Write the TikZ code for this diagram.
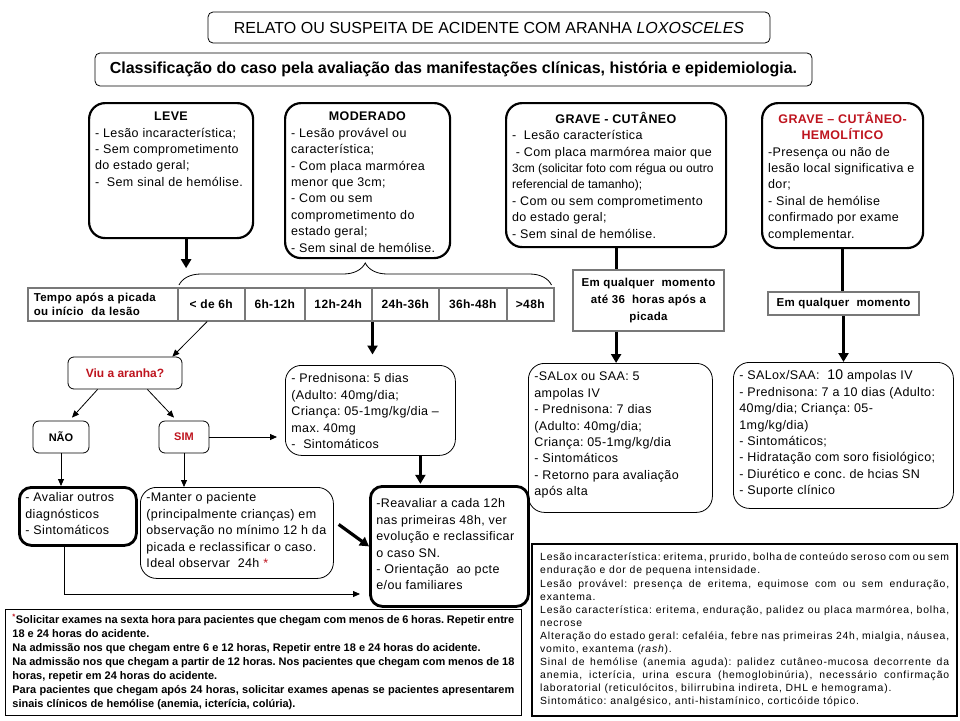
\documentclass[tikz,border=0pt]{standalone}
\usepackage{fontspec}
\setmainfont{Liberation Sans}
\newfontfamily\fontecaixa[LetterSpace=3]{Liberation Sans}
\newfontfamily\fontelarga[LetterSpace=8]{Liberation Sans}
\usepackage{xcolor}
\usepackage{tikz}
\usetikzlibrary{arrows.meta,decorations.pathreplacing,positioning}

\definecolor{alerta}{RGB}{190,20,30}
\definecolor{grade}{RGB}{120,120,120}

\frenchspacing
\hyphenpenalty=10000
\exhyphenpenalty=10000
\tolerance=9999

\newcommand{\caixa}[4]{\parbox[t][#2][t]{#1}{\centering #3\par\raggedright
  \begin{tabular}[t]{@{}l@{}}#4\end{tabular}}}

\begin{document}
\begin{tikzpicture}[x=1pt, y=-1pt,
  quadro/.style={draw, rounded corners=5pt, line width=0.8pt},
  grupo/.style={draw, rounded corners=16pt, line width=2.2pt, anchor=north west, inner xsep=6pt, inner ysep=9pt, font=\fontecaixa\fontsize{12.5}{16.4}\selectfont},
  conduta/.style={grupo, line width=0.8pt, inner ysep=6pt},
  destaque/.style={grupo, line width=2.8pt, rounded corners=12pt},
  opcao/.style={draw, rounded corners=6pt, line width=0.8pt, font=\bfseries\fontsize{11}{13}\selectfont},
  celula/.style={draw=grade, line width=1.5pt, anchor=north west, minimum height=33pt, font=\fontecaixa\bfseries\fontsize{12}{14}\selectfont},
  prazo/.style={draw=grade, line width=1.5pt, align=center, font=\fontecaixa\bfseries\fontsize{11.5}{17}\selectfont},
  nota/.style={draw, anchor=north west, inner xsep=7pt, inner ysep=7pt, align=justify},
  seta/.style={-{Triangle[width=10pt,length=9pt]}, line width=3.2pt},
  haste/.style={line width=3.2pt},
  setafina/.style={-{Triangle[width=6pt,length=7pt]}, line width=0.8pt}
]
\useasboundingbox (0,0) rectangle (960,720);

\node[quadro, minimum width=562pt, minimum height=31pt, font=\fontsize{16}{18}\selectfont] (relato) at (489,27.5) {RELATO OU SUSPEITA DE ACIDENTE COM ARANHA \textit{LOXOSCELES}};
\node[quadro, minimum width=717pt, minimum height=33pt, font=\bfseries\fontsize{16}{18}\selectfont] (classe) at (453.5,69.5) {Classificação do caso pela avaliação das manifestações clínicas, história e epidemiologia.};

\node[grupo] (leve) at (88,102) {\caixa{152pt}{117pt}{\textbf{LEVE}}{- Lesão incaracterística;\\- Sem comprometimento\\do estado geral;\\-\ \ Sem sinal de hemólise.}};
\node[grupo] (moderado) at (284,102) {\caixa{153pt}{137pt}{\textbf{MODERADO}}{- Lesão provável ou\\característica;\\- Com placa marmórea\\menor que 3cm;\\- Com ou sem\\comprometimento do\\estado geral;\\- Sem sinal de hemólise.}};
\node[grupo] (cutaneo) at (505,102) {\caixa{208pt}{126pt}{\textbf{GRAVE - CUTÂNEO}}{-\ \ Lesão característica\\\ - Com placa marmórea maior que\\{\rmfamily\fontsize{12}{13}\selectfont 3cm (solicitar foto com régua ou outro}\\{\rmfamily\fontsize{12}{13}\selectfont referencial de tamanho);}\\- Com ou sem comprometimento\\do estado geral;\\- Sem sinal de hemólise.}};
\node[grupo] (hemolitico) at (761,102) {\caixa{149pt}{127pt}{\textcolor{alerta}{\textbf{GRAVE – CUTÂNEO-\\HEMOLÍTICO}}}{-Presença ou não de\\lesão local significativa e\\dor;\\- Sinal de hemólise\\confirmado por exame\\complementar.}};

\node[celula, text width=138pt, align=left, inner xsep=6pt, font=\fontecaixa\bfseries\fontsize{11.5}{14}\selectfont] (tempo) at (27,287) {Tempo após a picada\\ou início\ \ da lesão};
\foreach \a/\b/\h [count=\i] in {177/244/{< de 6h}, 244/304/6h-12h, 304/371/12h-24h, 371/438/24h-36h, 438/506/36h-48h, 506/553/{>48h}}{
  \pgfmathsetmacro{\w}{\b-\a}
  \node[celula, minimum width=\w pt] (t\i) at (\a,287) {\h};
}
\draw[decorate, decoration={brace, amplitude=22pt}, line width=0.8pt] ([xshift=2pt, yshift=2pt]t1.north west) -- ([xshift=-3pt, yshift=2pt]t6.north east);

\draw[seta] ([xshift=15pt]leve.south) -- ++(0,29);
\draw[seta] (t3.south east) -- ++(0,33);

\node[prazo, minimum width=151pt, minimum height=61pt] (prazo36) at (648.5,300.5) {Em qualquer\ \ momento\\até 36\ \ horas após a\\picada};
\node[prazo, minimum width=151pt, minimum height=23pt] (prazo) at (843.5,303.5) {Em qualquer\ \ momento};

\node[opcao, minimum width=114pt, minimum height=32pt, text=alerta, font=\bfseries\fontsize{12}{14}\selectfont] (viu) at (125,373) {Viu a aranha?};
\node[opcao, minimum width=56pt, minimum height=32pt] (nao) at (61,437) {NÃO};
\node[opcao, minimum width=50pt, minimum height=32pt, text=alerta] (sim) at (184,437) {SIM};

\node[conduta] (pred) at (285,365) {\caixa{158pt}{78pt}{}{- Prednisona: 5 dias\\(Adulto: 40mg/dia;\\Criança: 05-1mg/kg/dia –\\max. 40mg\\-\ \ Sintomáticos}};
\node[conduta] (salox) at (528,363) {\caixa{172pt}{137pt}{}{-SALox ou SAA: 5\\ampolas IV\\- Prednisona: 7 dias\\(Adulto: 40mg/dia;\\Criança: 05-1mg/kg/dia\\- Sintomáticos\\- Retorno para avaliação\\após alta}};
\node[conduta] (soro) at (733,362) {\caixa{208pt}{134pt}{}{- SALox/SAA:\ \ {\fontsize{14}{16}\selectfont 10} ampolas IV\\- Prednisona: 7 a 10 dias (Adulto:\\40mg/dia; Criança: 05-\\1mg/kg/dia)\\- Sintomáticos;\\- Hidratação com soro fisiológico;\\- Diurético e conc. de hcias SN\\- Suporte clínico}};

\node[destaque, inner ysep=3pt] (avaliar) at (18,486) {\caixa{105pt}{52pt}{}{- Avaliar outros\\diagnósticos\\- Sintomáticos}};
\node[conduta, inner ysep=3pt] (manter) at (140,487) {\caixa{181pt}{85pt}{}{-Manter o paciente\\(principalmente crianças) em\\observação no mínimo 12 h da\\picada e reclassificar o caso.\\Ideal observar\ \ 24h \textcolor{alerta}{*}}};
\node[destaque, inner ysep=10pt] (reav) at (369,485) {\caixa{146pt}{100pt}{}{-Reavaliar a cada 12h\\nas primeiras 48h, ver\\evolução e reclassificar\\o caso SN.\\- Orientação\ \ ao pcte\\e/ou familiares}};
\coordinate (retorno) at (360,594);

\draw[setafina] ([xshift=-4pt]t1.south) -- ([xshift=-10pt]viu.north east);
\draw[setafina] ([xshift=30pt]viu.south west) -- ([xshift=11pt, yshift=3pt]nao.north);
\draw[setafina] ([xshift=-35pt]viu.south east) -- ([xshift=-10pt, yshift=3pt]sim.north);
\draw[setafina, shorten >=8pt] (sim.east) -- (sim.east -| pred.west);
\draw[setafina] (nao.south) -- (nao.south |- avaliar.north);
\draw[setafina] (sim.south) -- (sim.south |- manter.north);
\draw[setafina] ([xshift=-14pt]avaliar.south) |- (retorno);
\draw[seta] ([xshift=50pt]pred.south) -- ++(0,28);
\draw[seta, shorten <=6pt] ([yshift=12pt]manter.east) -- (reav.west);

\draw[haste] (cutaneo.south) -- (cutaneo.south |- prazo36.north);
\draw[seta] (cutaneo.south |- prazo36.south) -- (cutaneo.south |- salox.north);
\draw[haste] (hemolitico.south) -- (hemolitico.south |- prazo.north);
\draw[seta] (prazo.south) -- (prazo.south |- soro.north);

\node[nota, line width=0.8pt, text width=502pt, inner ysep=5pt, font=\bfseries\fontsize{11}{14}\selectfont] (obs) at (5,609) {\textsuperscript{\textcolor{alerta}{*}}Solicitar exames na sexta hora para pacientes que chegam com menos de 6 horas. Repetir entre\linebreak 18 e 24 horas do acidente.\\
Na admissão nos que chegam entre 6 e 12 horas, Repetir entre 18 e 24 horas do acidente.\\
Na admissão nos que chegam a partir de 12 horas. Nos pacientes que chegam com menos de 18\linebreak horas, repetir em 24 horas do acidente.\\
Para pacientes que chegam após 24 horas, solicitar exames apenas se pacientes apresentarem\linebreak sinais clínicos de hemólise (anemia, icterícia, colúria).};

\node[nota, line width=2.4pt, text width=409pt, inner xsep=8pt, inner ysep=9pt, font=\fontelarga\fontsize{10.4}{13.1}\selectfont] (glossario) at (531,543) {Lesão incaracterística: eritema, prurido, bolha de conteúdo seroso com ou sem\linebreak enduração e dor de pequena intensidade.\\
Lesão provável: presença de eritema, equimose com ou sem enduração,\linebreak exantema.\\
Lesão característica: eritema, enduração, palidez ou placa marmórea, bolha,\linebreak necrose\\
Alteração do estado geral: cefaléia, febre nas primeiras 24h, mialgia, náusea,\linebreak vomito, exantema (\textit{rash}).\\
Sinal de hemólise (anemia aguda): palidez cutâneo-mucosa decorrente da\linebreak anemia, icterícia, urina escura (hemoglobinúria), necessário confirmação\linebreak laboratorial (reticulócitos, bilirrubina indireta, DHL e hemograma).\\
Sintomático: analgésico, anti-histamínico, corticóide tópico.};
\end{tikzpicture}
\end{document}
